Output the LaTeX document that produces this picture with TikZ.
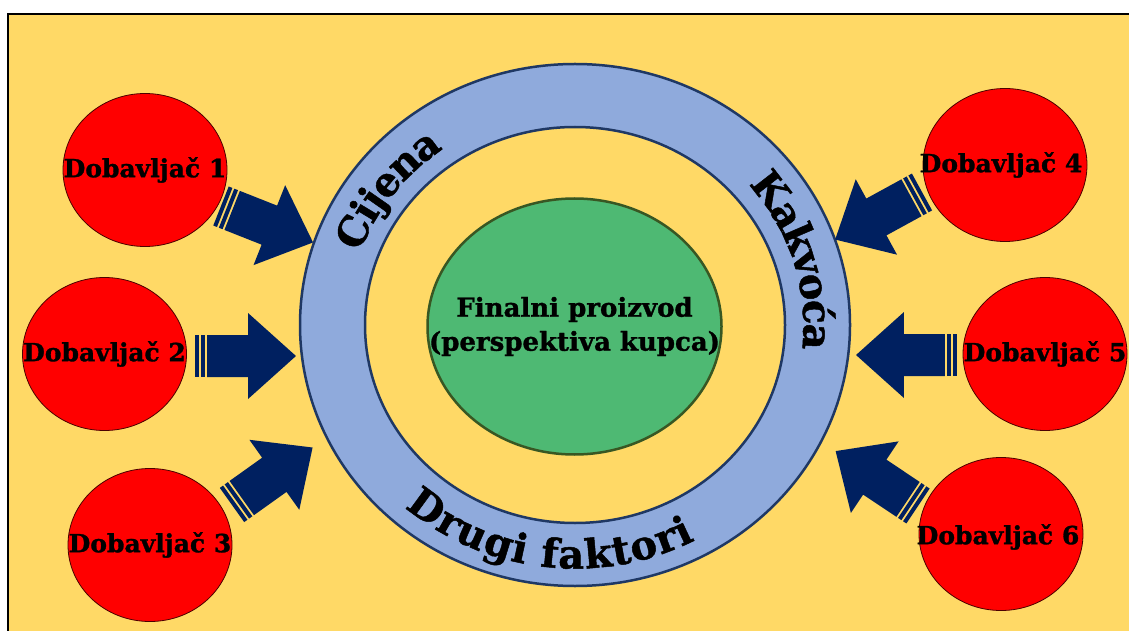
\documentclass[tikz,border=0pt]{standalone}
\usepackage{fontspec}
\setmainfont{DejaVu Serif}[BoldFeatures={FakeBold=1.2}]
\usetikzlibrary{shapes.geometric,decorations.text,calc}
\definecolor{bgyellow}{HTML}{FFD966}
\definecolor{ringblue}{HTML}{8FAADC}
\definecolor{ringedge}{HTML}{1F3864}
\definecolor{greenfill}{HTML}{4EB973}
\definecolor{greenedge}{HTML}{385723}
\definecolor{redfill}{HTML}{FF0000}
\definecolor{navy}{HTML}{002060}
\newcommand\ringfont{\fontsize{40}{48}\selectfont\bfseries}
\tikzset{
  pics/striparrow/.style={code={
    \fill[navy] (0,-21) rectangle (4,21);
    \fill[navy] (6,-21) rectangle (10,21);
    \fill[navy] (12,-21) -- (52,-21) -- (52,-43) -- (99,0) -- (52,43) -- (52,21) -- (12,21) -- cycle;
  }},
  redc/.style={ellipse, draw=black!70!red, line width=0.8pt, fill=redfill,
    minimum width=164pt, minimum height=153pt, inner sep=0pt},
  redt/.style={font=\fontsize{25}{30}\selectfont\bfseries, inner sep=0pt},
  ringtext/.style={decorate, decoration={text along path, text align=center,
    raise=-14pt, text={|\ringfont|#1}}}
}
\begin{document}
\begin{tikzpicture}[x=1pt,y=1pt]
\useasboundingbox (0,0) rectangle (1129,630);
\clip (0,0) rectangle (1129,630);
\fill[white] (0,0) rectangle (1129,630);
\fill[bgyellow] (8,-5) rectangle (1140,616);
\draw[line width=2pt] (8,-5) -- (8,616) -- (1140,616);

% ring
\coordinate (C) at (575,305);
\node[ellipse, draw=ringedge, line width=2.5pt, fill=ringblue, minimum width=550pt,
  minimum height=522pt, inner sep=0pt] (outer) at (C) {};
\node[ellipse, draw=ringedge, line width=2.5pt, fill=bgyellow, minimum width=420pt,
  minimum height=396pt, inner sep=0pt] (inner) at (C) {};
\node[ellipse, draw=greenedge, line width=2.5pt, fill=greenfill, minimum width=294pt,
  minimum height=256pt, inner sep=0pt] (prod) at (574.5,303.5) {};
\node[font=\fontsize{26}{34}\selectfont\bfseries, align=center, inner sep=0pt] (prodt)
  at (prod) {Finalni proizvod\\(perspektiva kupca)};

\path[ringtext={Cijena}] ($(C)+(178:242.5pt and 229.5pt)$)
  arc[start angle=178, end angle=108, x radius=242.5pt, y radius=229.5pt];
\path[ringtext={Kakvoća}] ($(C)+(52:242.5pt and 229.5pt)$)
  arc[start angle=52, end angle=-18, x radius=242.5pt, y radius=229.5pt];
\path[ringtext={Drugi faktori}] ($(C)+(213:242.5pt and 229.5pt)$)
  arc[start angle=213, end angle=313, x radius=242.5pt, y radius=229.5pt];

% suppliers
\node[redc] (d1) at (145,460) {};
\node[redc] (d2) at (104.5,276) {};
\node[redc] (d3) at (150,85) {};
\node[redc] (d4) at (1005,465) {};
\node[redc] (d5) at (1045,276) {};
\node[redc] (d6) at (1001,96) {};
\node[redt] (d1t) at (d1) {Dobavljač 1};
\node[redt] (d2t) at (d2) {Dobavljač 2};
\node[redt] (d3t) at (d3) {Dobavljač 3};
\node[redt] (d4t) at ([xshift=-4pt]d4.center) {Dobavljač 4};
\node[redt] (d5t) at (d5) {Dobavljač 5};
\node[redt] (d6t) at ([xshift=-3pt,yshift=-3pt]d6.center) {Dobavljač 6};

% arrows
\pic[rotate=-21.6] (a1) at (221,424) {striparrow};
\pic[rotate=0, xscale=1.02] (a2) at (195,274) {striparrow};
\pic[rotate=35.5] (a3) at (232,125) {striparrow};
\pic[rotate=208.7] (a4) at (922,438) {striparrow};
\pic[rotate=180, xscale=1.02] (a5) at (957,275) {striparrow};
\pic[rotate=146.3] (a6) at (918,124) {striparrow};
\end{tikzpicture}
\end{document}
